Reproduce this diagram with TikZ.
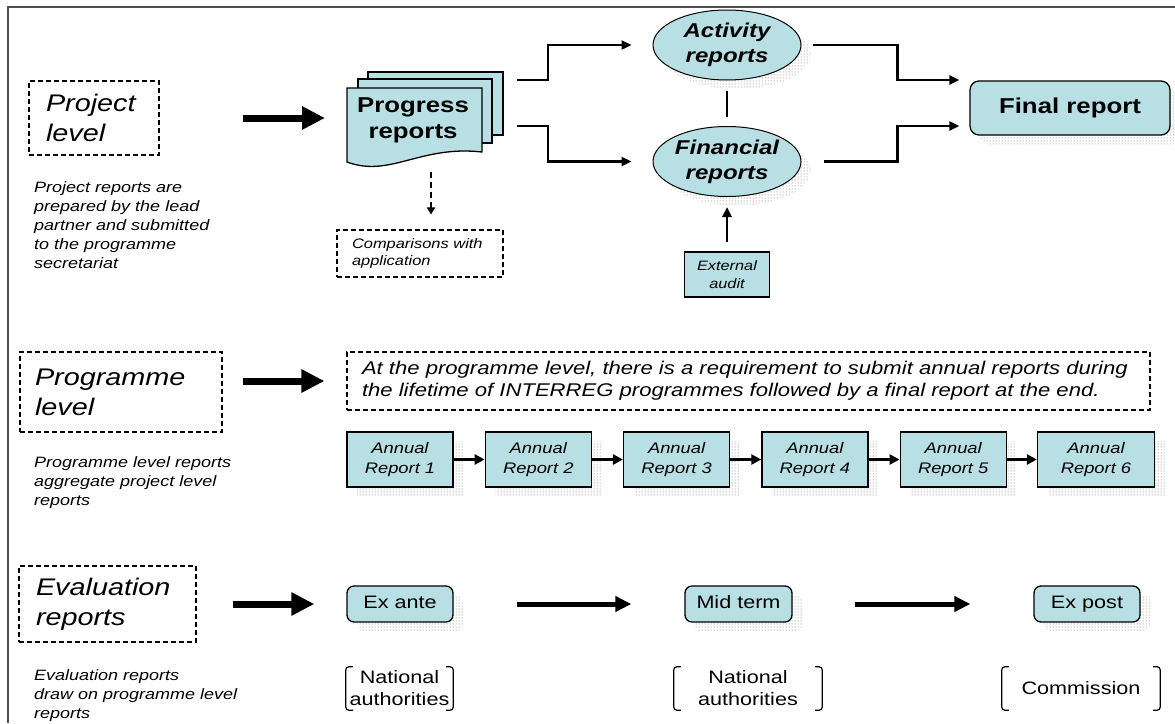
\documentclass[tikz,border=0pt]{standalone}
\usepackage{fontspec}
\setmainfont[FakeStretch=1.2]{Liberation Sans}
\usetikzlibrary{arrows.meta,positioning,calc,shapes.geometric,patterns}
\definecolor{paleteal}{RGB}{184,223,227}
\definecolor{framegray}{RGB}{80,80,80}

\begin{document}
\begin{tikzpicture}[x=1pt,y=-1pt,
  levelbox/.style={draw,dashed,dash pattern=on 5pt off 3pt,line width=1.1pt,align=left,
    font=\fontsize{24}{30}\selectfont\itshape},
  notebox/.style={draw,dashed,dash pattern=on 5pt off 3pt,line width=1.1pt,align=left},
  caption/.style={anchor=north west,inner sep=0pt,align=left,font=\fontsize{15}{19}\selectfont\itshape},
  dotshadow/.style={preaction={pattern=dots,pattern color=black!60,transform canvas={xshift=10pt,yshift=-9pt}}},
  tealbox/.style={draw,fill=paleteal,line width=1.3pt},
  page/.style={draw,fill=paleteal,line width=1.3pt},
  phase/.style={ellipse,draw,fill=paleteal,line width=1pt,dotshadow,minimum width=148pt,minimum height=70pt,
    inner sep=0pt,align=center,font=\fontsize{20}{25}\selectfont\bfseries\itshape},
  annual/.style={tealbox,dotshadow,minimum width=106pt,minimum height=55pt,inner sep=0pt,align=center,
    font=\fontsize{15.3}{20}\selectfont\itshape},
  stage/.style={tealbox,dotshadow,rounded corners=7pt,minimum width=106pt,minimum height=36pt,inner sep=0pt,
    text height=13pt,text depth=4pt,font=\fontsize{18}{22}\selectfont},
  who/.style={minimum height=43pt,inner sep=0pt,align=center,font=\fontsize{18}{22}\selectfont},
  bracket/.style={line width=1.2pt,rounded corners=3pt},
  bigarrow/.style={line width=7pt,-{Triangle[length=23pt,width=22pt]}},
  elbow/.style={line width=2.3pt,-{Triangle[length=10pt,width=9pt]}},
  steparrow/.style={line width=3pt,-{Triangle[length=10pt,width=10pt]}},
  midarrow/.style={line width=5pt,-{Triangle[length=16pt,width=15pt]}},
  dasharrow/.style={line width=2pt,dashed,dash pattern=on 6pt off 4pt,-{Triangle[length=7pt,width=8pt]}}]
\useasboundingbox (0,0) rectangle (1175,723);
\draw[framegray,line width=2pt] (8,723) -- (8,7) -- (1175,7);

% project level
\node[levelbox,text width=96pt,inner xsep=17pt,minimum height=74pt] (projlvl) at (94,118) {Project\\level};
\node[caption] (projnote) at (34,181) {Project reports are\\prepared by the lead\\partner and submitted\\to the programme\\secretariat};
\filldraw[page] (368,72) rectangle (503,135);
\filldraw[page] (358,79) rectangle (492,143);
\filldraw[page] (347,88) -- (482,88) -- (482,152) .. controls (420,145) and (390,178) .. (347,162) -- cycle;
\node[font=\fontsize{21.5}{26}\selectfont\bfseries,align=center] (progress) at (413,120) {Progress\\reports};
\coordinate (pr-up) at (517,80);
\coordinate (pr-down) at (517,126);
\coordinate (pr-bot) at (431,172);
\node[notebox,font=\fontsize{13.7}{17}\selectfont\itshape,text width=136pt,inner xsep=15pt,minimum height=47pt] (compare) at (420,253.5) {Comparisons with\\application};
\node[phase] (activity) at (727,45) {Activity\\reports};
\node[phase] (financial) at (727,161.5) {Financial\\reports};
\node[tealbox,minimum width=85pt,minimum height=45pt,inner sep=0pt,align=center,
  font=\fontsize{13.6}{17.5}\selectfont\itshape] (audit) at (727,274.5) {External\\audit};
\node[tealbox,dotshadow,rounded corners=9pt,minimum width=200pt,minimum height=54pt,
  font=\fontsize{21.5}{26}\selectfont\bfseries] (final) at (1070,108) {Final report};
\draw[bigarrow,shorten <=83pt,shorten >=22pt] (projlvl.east) -- (projlvl.east -| 347,0);
\draw[elbow,shorten >=21pt] (pr-up) -- ++(31,0) |- (activity.west);
\draw[elbow,shorten >=21pt] (pr-down) -- ++(31,0) |- (financial.west);
\draw[elbow,shorten >=10pt] ([xshift=11pt]activity.east) -- ++(85,0) |- ([yshift=28pt]final.west);
\draw[elbow,shorten >=10pt] ([xshift=22pt]financial.east) -- ++(74,0) |- ([yshift=-18pt]final.west);
\draw[line width=2pt] ([yshift=-10pt]activity.south) -- ([yshift=9pt]financial.north);
\draw[elbow,line width=2.5pt,shorten <=9pt,shorten >=10pt] (audit.north) -- (financial.south);
\draw[dasharrow,shorten >=15pt] (pr-bot) -- (pr-bot |- compare.north);

% programme level
\node[levelbox,text width=172pt,inner xsep=15pt,minimum height=80pt] (proglvl) at (121,392) {Programme\\level};
\node[caption] (prognote) at (34,456) {Programme level reports\\aggregate project level\\reports};
\node[notebox,font=\fontsize{18.4}{22}\selectfont\itshape,text width=773pt,inner xsep=15pt,minimum height=58pt] (statement) at (748.5,381)
  {At the programme level, there is a requirement to submit annual reports during\\the lifetime of INTERREG programmes followed by a final report at the end.};
\draw[bigarrow,shorten <=20pt,shorten >=22pt] (proglvl.east |- statement.west) -- (statement.west);
\node[annual] (ar1) at (400,459.5) {Annual\\Report 1};
\node[annual,right=31pt of ar1] (ar2) {Annual\\Report 2};
\node[annual,right=31pt of ar2] (ar3) {Annual\\Report 3};
\node[annual,right=31pt of ar3] (ar4) {Annual\\Report 4};
\node[annual,right=31pt of ar4] (ar5) {Annual\\Report 5};
\node[annual,right=30pt of ar5,minimum width=117pt] (ar6) {Annual\\Report 6};
\draw[steparrow] (ar1) -- (ar2);
\draw[steparrow] (ar2) -- (ar3);
\draw[steparrow] (ar3) -- (ar4);
\draw[steparrow] (ar4) -- (ar5);
\draw[steparrow] (ar5) -- (ar6);

% evaluation reports
\node[levelbox,text width=143pt,inner xsep=17pt,minimum height=76pt] (evallvl) at (107.5,604) {Evaluation\\reports};
\node[caption] (evalnote) at (34,669) {Evaluation reports\\draw on programme level\\reports};
\node[stage] (exante) at (400,604) {Ex ante};
\node[stage,minimum width=107pt] (midterm) at (738.5,604) {Mid term};
\node[stage] (expost) at (1087,604) {Ex post};
\draw[bigarrow,shorten <=36pt,shorten >=32pt] (evallvl.east) -- (exante.west);
\draw[midarrow,shorten <=63pt,shorten >=53pt] (exante) -- (midterm);
\draw[midarrow,shorten <=62pt,shorten >=63pt] (midterm) -- (expost);
\node[who,minimum width=107pt] (nat1) at (399.5,688.5) {National\\authorities};
\node[who,minimum width=148pt] (nat2) at (748,688.5) {National\\authorities};
\node[who,minimum width=158pt] (comm) at (1081,688.5) {Commission};
\draw[bracket] ([xshift=7pt]nat1.north west) -- (nat1.north west) -- (nat1.south west) -- ([xshift=7pt]nat1.south west);
\draw[bracket] ([xshift=-7pt]nat1.north east) -- (nat1.north east) -- (nat1.south east) -- ([xshift=-7pt]nat1.south east);
\draw[bracket] ([xshift=7pt]nat2.north west) -- (nat2.north west) -- (nat2.south west) -- ([xshift=7pt]nat2.south west);
\draw[bracket] ([xshift=-7pt]nat2.north east) -- (nat2.north east) -- (nat2.south east) -- ([xshift=-7pt]nat2.south east);
\draw[bracket] ([xshift=7pt]comm.north west) -- (comm.north west) -- (comm.south west) -- ([xshift=7pt]comm.south west);
\draw[bracket] ([xshift=-7pt]comm.north east) -- (comm.north east) -- (comm.south east) -- ([xshift=-7pt]comm.south east);
\end{tikzpicture}
\end{document}
